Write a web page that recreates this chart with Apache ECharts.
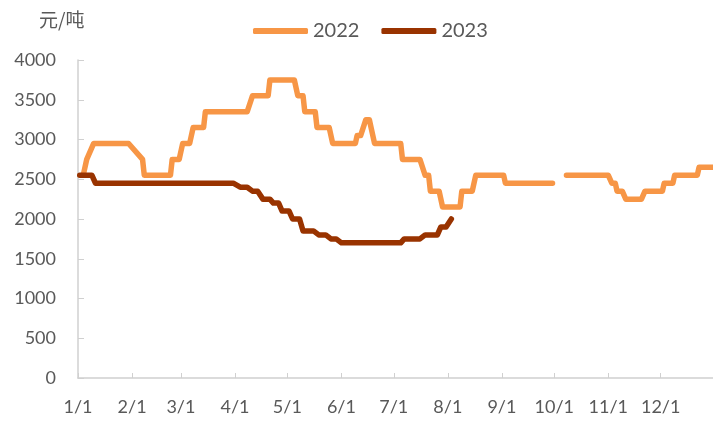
<!DOCTYPE html>
<html>
<head>
<meta charset="utf-8">
<script src="https://cdn.jsdelivr.net/npm/echarts@6/dist/echarts.min.js"></script>
<style>
html,body{margin:0;padding:0;background:#fff;}
#c{width:713px;height:425px;}
</style>
</head>
<body>
<div id="c"></div>
<script>
// Day-of-year index (0 = 1/1) of each vertex, and the price at that vertex
const days2022 = [3,5,6,9,29,37,38,53,54,58,60,64,66,72,73,97,100,109,110,124,126,129,130,136,137,144,146,159,160,162,165,167,170,185,186,196,199,201,202,207,209,219,220,226,228,244,245,272,276,280,304,306,308,309,312,314,323,325,335,336,341,342,355,356,364];
const vals2022 = [2550,2750,2750,2950,2950,2750,2550,2550,2750,2750,2950,2950,3150,3150,3350,3350,3550,3550,3750,3750,3550,3550,3350,3350,3150,3150,2950,2950,3050,3050,3250,3250,2950,2950,2750,2750,2550,2550,2350,2350,2150,2150,2350,2350,2550,2550,2450,2450,null,2550,2550,2450,2450,2350,2350,2250,2250,2350,2350,2450,2450,2550,2550,2650,2650];
const days2023 = [1,8,10,89,93,97,100,103,106,110,112,115,117,121,123,127,129,135,138,142,145,148,151,185,187,196,199,206,208,211,214];
const vals2023 = [2550,2550,2450,2450,2400,2400,2350,2350,2250,2250,2200,2200,2100,2100,2000,2000,1850,1850,1800,1800,1750,1750,1700,1700,1750,1750,1800,1800,1900,1900,2000];
const seriesNames = ['2022','2023'];
const seriesColors = ['#F79646','#993300'];
const yTicks = {min:0, max:4000, step:500};
const unitLabel = '元/吨';

// category labels: every day of a 365-day year as M/D
const categories = [];
const monthStart = [];
(function(){
  const lens=[31,28,31,30,31,30,31,31,30,31,30,31];
  for(let m=0;m<12;m++){for(let d=1;d<=lens[m];d++){categories.push((m+1)+'/'+d);monthStart.push(d===1);}}
})();
const zip=(a,b)=>a.map((d,i)=>[d, b[i]===null?'-':b[i]]);

const chart = echarts.init(document.getElementById('c'));
const txt = '#595959';
chart.setOption({
  animation:false,
  backgroundColor:'#fff',
  grid:{left:78,right:0,top:60,bottom:47},
  title:{text:unitLabel,left:34,top:5,textStyle:{fontFamily:'Noto Sans CJK SC',fontSize:19,fontWeight:'normal',color:txt}},
  legend:{left:248,top:16,itemWidth:55,itemHeight:6,itemGap:22,
    textStyle:{fontFamily:'Lato',fontSize:20,color:txt},
    data:seriesNames.map((n,i)=>({name:n,icon:'roundRect',itemStyle:{color:seriesColors[i]}}))},
  xAxis:{type:'category',data:categories,boundaryGap:false,
    axisLine:{lineStyle:{color:'#D0D0D0',width:1.5}},
    axisTick:{inside:true,length:5,lineStyle:{color:'#D0D0D0'},interval:(i)=>monthStart[i]},
    axisLabel:{interval:(i)=>monthStart[i],color:txt,fontFamily:'Lato',fontSize:18,margin:20}},
  yAxis:{type:'value',min:yTicks.min,max:yTicks.max,interval:yTicks.step,
    axisLine:{show:true,lineStyle:{color:'#D0D0D0',width:1.5}},
    axisTick:{show:true,inside:true,length:6,lineStyle:{color:'#D0D0D0'}},
    splitLine:{show:false},
    axisLabel:{color:txt,fontFamily:'Lato',fontSize:18,margin:22,formatter:(v)=>String(v)}},
  series:seriesNames.map((n,i)=>({
    name:n,type:'line',data:i===0?zip(days2022,vals2022):zip(days2023,vals2023),
    symbol:'none',connectNulls:false,
    lineStyle:{color:seriesColors[i],width:5.5,cap:'round',join:'round'},itemStyle:{color:seriesColors[i]}
  }))
});
</script>
</body>
</html>
